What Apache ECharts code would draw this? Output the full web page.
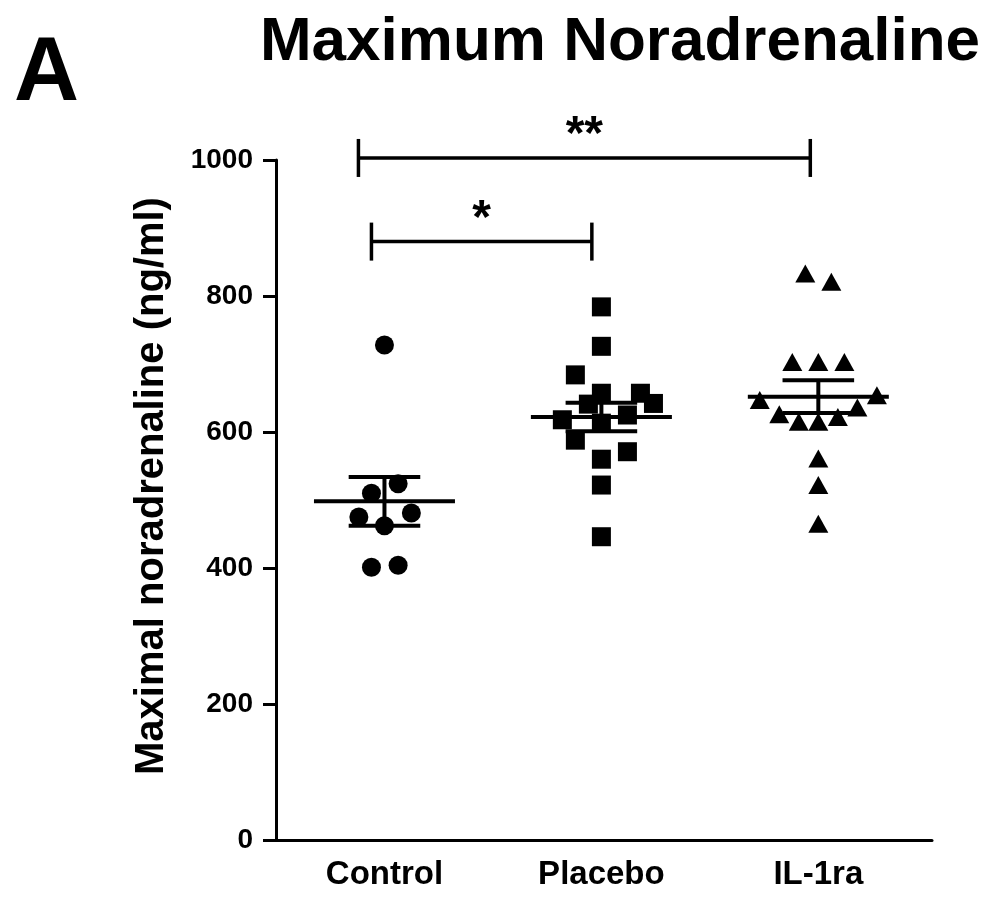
<!DOCTYPE html>
<html>
<head>
<meta charset="utf-8">
<title>Maximum Noradrenaline</title>
<script src="https://cdn.jsdelivr.net/npm/echarts@6/dist/echarts.min.js"></script>
<style>
  html, body { margin: 0; padding: 0; background: #fff; }
  #chart { width: 1000px; height: 903px; }
</style>
</head>
<body>
<div id="chart"></div>
<script>
// groups on the x axis (positions 1, 2, 3)
var groups = ['Control', 'Placebo', 'IL-1ra'];
var yTicks = [0, 200, 400, 600, 800, 1000];

// individual values (ng/ml) and horizontal scatter offsets within each group
var controlValues = [728, 524, 510, 475, 481, 462, 401, 404];
var controlJitter = [0, 0.063, -0.06, -0.118, 0.124, 0, -0.06, 0.063];

var placeboValues = [784, 726, 684, 657, 657, 641, 642, 625, 618, 613, 588, 571, 560, 522, 446];
var placeboJitter = [0, 0, -0.12, 0, 0.18, -0.06, 0.24, 0.12, -0.18, 0, -0.12, 0.12, 0, 0, 0];

var il1raValues = [833, 821, 703, 703, 703, 647, 654, 636, 626, 615, 615, 622, 561, 522, 465];
var il1raJitter = [-0.06, 0.06, -0.12, 0, 0.12, -0.27, 0.27, 0.18, -0.18, -0.09, 0, 0.09, 0, 0, 0];

// mean +/- SEM per group
var groupMeans = [498, 622, 652];
var groupSem = [36, 21, 24];

// significance brackets
var bracketStart = [0.88, 0.94];
var bracketEnd = [2.963, 1.956];
var bracketLevel = [1003, 880];
var bracketLabel = ['**', '*'];

var FONT = 'Liberation Sans, Arial, sans-serif';

function points(values, jitter, groupIndex) {
    return values.map(function (v, i) {
        return [groupIndex + 1 + jitter[i], v];
    });
}

var chart = echarts.init(document.getElementById('chart'));

var option = {
    animation: false,
    backgroundColor: '#fff',
    title: [
        {
            text: 'A',
            left: 14,
            top: 30,
            padding: 0,
            textStyle: { fontFamily: FONT, fontWeight: 'bold', fontSize: 90, color: '#000' }
        },
        {
            text: 'Maximum Noradrenaline',
            left: 620,
            textAlign: 'center',
            top: 12,
            padding: 0,
            textStyle: { fontFamily: FONT, fontWeight: 'bold', fontSize: 62, color: '#000' }
        }
    ],
    graphic: [
        {
            type: 'text',
            x: 152,
            y: 486,
            rotation: Math.PI / 2,
            style: {
                text: 'Maximal noradrenaline (ng/ml)',
                fontFamily: FONT,
                fontWeight: 'bold',
                fontSize: 40,
                fill: '#000',
                align: 'center',
                verticalAlign: 'middle'
            }
        }
    ],
    grid: { left: 276, right: 68, top: 160, bottom: 63 },
    xAxis: {
        type: 'value',
        min: 0.5,
        max: 3.524,
        splitLine: { show: false },
        axisTick: { show: false },
        axisLine: { show: true, lineStyle: { color: '#000', width: 3 } },
        axisLabel: {
            customValues: [1, 2, 3],
            formatter: function (v) { return groups[Math.round(v) - 1]; },
            margin: 18,
            fontFamily: FONT,
            fontWeight: 'bold',
            fontSize: 33,
            color: '#000'
        }
    },
    yAxis: {
        type: 'value',
        min: yTicks[0],
        max: yTicks[yTicks.length - 1],
        interval: 200,
        splitLine: { show: false },
        axisLine: { show: true, lineStyle: { color: '#000', width: 3 } },
        axisTick: { show: true, length: 13, lineStyle: { color: '#000', width: 3 } },
        axisLabel: {
            margin: 23,
            formatter: function (v) { return String(v); },
            fontFamily: FONT,
            fontWeight: 'bold',
            fontSize: 28,
            color: '#000'
        }
    },
    series: [
        {
            name: 'Control',
            type: 'scatter',
            symbol: 'circle',
            symbolSize: 19,
            itemStyle: { color: '#000', opacity: 1 },
            data: points(controlValues, controlJitter, 0)
        },
        {
            name: 'Placebo',
            type: 'scatter',
            symbol: 'rect',
            symbolSize: 19,
            itemStyle: { color: '#000', opacity: 1 },
            data: points(placeboValues, placeboJitter, 1)
        },
        {
            name: 'IL-1ra',
            type: 'scatter',
            symbol: 'triangle',
            symbolSize: [20, 18],
            itemStyle: { color: '#000', opacity: 1 },
            data: points(il1raValues, il1raJitter, 2)
        },
        {
            name: 'mean',
            type: 'custom',
            z: 5,
            data: groupMeans.map(function (m, i) { return [i + 1, m, groupSem[i]]; }),
            renderItem: function (params, api) {
                var x = api.value(0), m = api.value(1), s = api.value(2);
                var mid = api.coord([x, m]);
                var l = api.coord([x - 0.325, m])[0];
                var r = api.coord([x + 0.325, m])[0];
                var cl = api.coord([x - 0.165, m])[0];
                var cr = api.coord([x + 0.165, m])[0];
                var top = api.coord([x, m + s])[1];
                var bot = api.coord([x, m - s])[1];
                var st = { stroke: '#000', lineWidth: 4 };
                return {
                    type: 'group',
                    children: [
                        { type: 'line', shape: { x1: l, y1: mid[1], x2: r, y2: mid[1] }, style: st },
                        { type: 'line', shape: { x1: mid[0], y1: top, x2: mid[0], y2: bot }, style: st },
                        { type: 'line', shape: { x1: cl, y1: top, x2: cr, y2: top }, style: st },
                        { type: 'line', shape: { x1: cl, y1: bot, x2: cr, y2: bot }, style: st }
                    ]
                };
            }
        },
        {
            name: 'significance',
            type: 'custom',
            z: 5,
            data: bracketLevel.map(function (lv, i) { return [bracketStart[i], bracketEnd[i], lv, i]; }),
            renderItem: function (params, api) {
                var a = api.coord([api.value(0), api.value(2)]);
                var b = api.coord([api.value(1), api.value(2)]);
                var label = bracketLabel[api.value(3)];
                var st = { stroke: '#000', lineWidth: 3.5 };
                return {
                    type: 'group',
                    children: [
                        { type: 'line', shape: { x1: a[0], y1: a[1], x2: b[0], y2: b[1] }, style: st },
                        { type: 'line', shape: { x1: a[0], y1: a[1] - 19, x2: a[0], y2: a[1] + 19 }, style: st },
                        { type: 'line', shape: { x1: b[0], y1: b[1] - 19, x2: b[0], y2: b[1] + 19 }, style: st },
                        {
                            type: 'text',
                            style: {
                                text: label,
                                x: (a[0] + b[0]) / 2,
                                y: a[1] - 22,
                                align: 'center',
                                verticalAlign: 'middle',
                                fontFamily: FONT,
                                fontWeight: 'bold',
                                fontSize: 48,
                                fill: '#000'
                            }
                        }
                    ]
                };
            }
        }
    ]
};

chart.setOption(option);
</script>
</body>
</html>
